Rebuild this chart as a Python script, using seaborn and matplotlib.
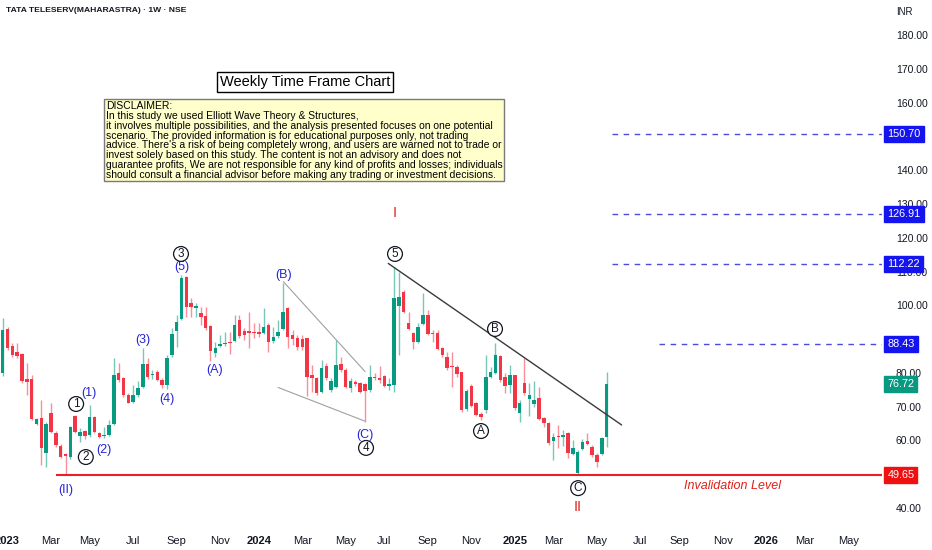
import numpy as np
import pandas as pd
import matplotlib
matplotlib.use("Agg")
import matplotlib.pyplot as plt
import matplotlib.transforms as mtransforms
import seaborn as sns

# weekly candles, first bar = week of 2022-12-26
start_week = "2022-12-26"
opens = [80.0, 93.0, 88.0, 86.2, 85.6, 78.2, 78.2, 64.9, 66.7, 56.3,
         68.1, 62.2, 58.4, 56.0, 55.1, 67.2, 61.3, 62.8, 61.6, 67.0,
         62.2, 61.2, 61.6, 64.9, 80.0, 78.5, 73.5, 71.4, 73.5, 75.8,
         82.6, 79.4, 80.3, 77.9, 76.4, 85.3, 92.4, 95.9, 108.4, 100.7,
         99.2, 97.7, 96.8, 93.9, 85.9, 88.0, 88.6, 89.1, 89.4, 95.7,
         92.4, 92.4, 92.1, 92.1, 91.8, 94.2, 89.4, 90.9, 93.0, 99.2,
         91.2, 90.3, 90.0, 90.3, 79.4, 78.5, 74.4, 82.0, 74.9, 75.8,
         82.6, 80.9, 75.5, 77.3, 77.0, 76.7, 74.9, 78.8, 78.5, 79.1,
         76.1, 76.4, 99.8, 103.9, 94.8, 91.8, 89.2, 94.5, 97.1, 91.8,
         91.8, 87.4, 84.7, 82.0, 81.7, 80.3, 69.3, 76.1, 71.1, 67.8,
         69.0, 78.8, 80.0, 85.0, 78.8, 76.4, 79.4, 68.1, 77.0, 72.3,
         70.8, 72.6, 66.7, 65.2, 59.9, 61.3, 61.0, 62.2, 56.0, 50.4,
         57.5, 59.9, 58.1, 55.7, 56.0, 61.0]
highs = [96.3, 93.6, 88.9, 88.9, 85.9, 82.9, 79.4, 66.7, 72.0, 65.5,
         71.1, 62.8, 59.0, 56.3, 64.3, 67.5, 63.7, 63.1, 70.5, 67.3,
         62.5, 64.0, 66.1, 84.4, 82.9, 78.8, 74.1, 76.4, 77.6, 87.4,
         84.4, 80.9, 80.9, 78.5, 85.3, 93.3, 97.1, 109.0, 108.7, 102.2,
         100.7, 99.5, 99.5, 94.2, 89.1, 91.2, 92.1, 92.1, 97.1, 97.1,
         93.3, 98.0, 94.8, 94.8, 99.2, 94.8, 93.6, 95.7, 106.6, 99.5,
         92.7, 91.2, 91.2, 90.3, 82.3, 78.8, 83.8, 82.9, 78.5, 89.7,
         84.7, 81.5, 78.5, 77.9, 77.3, 77.0, 82.3, 80.0, 82.0, 79.4,
         78.5, 111.3, 109.9, 104.5, 98.0, 92.1, 94.8, 103.7, 98.6, 92.7,
         92.7, 87.7, 86.2, 86.2, 82.3, 80.3, 75.2, 76.7, 71.4, 68.4,
         85.3, 81.7, 88.9, 85.3, 80.0, 82.3, 79.4, 72.0, 84.4, 77.0,
         77.6, 75.8, 67.0, 65.5, 62.2, 64.6, 63.1, 62.5, 60.1, 57.2,
         60.4, 62.2, 58.7, 56.3, 61.0, 80.3]
lows = [79.1, 86.8, 84.7, 84.4, 77.0, 73.5, 66.1, 64.6, 52.7, 52.2,
        62.2, 58.1, 54.8, 49.65, 54.5, 62.2, 59.6, 60.4, 61.0, 62.2,
        60.7, 60.7, 61.3, 64.6, 77.3, 72.9, 71.1, 71.1, 72.9, 75.5,
        78.2, 78.2, 77.6, 75.5, 75.2, 84.7, 87.7, 95.7, 96.5, 96.5,
        96.5, 94.2, 92.7, 83.5, 84.7, 87.7, 88.0, 85.6, 89.1, 90.3,
        89.7, 87.4, 90.3, 90.6, 91.5, 86.2, 88.9, 90.3, 92.7, 87.4,
        88.3, 86.8, 86.8, 73.2, 74.4, 73.5, 74.1, 77.9, 74.4, 75.5,
        80.3, 75.5, 74.4, 76.1, 74.1, 65.5, 74.4, 77.9, 77.0, 75.8,
        74.9, 74.4, 85.3, 97.7, 92.7, 87.1, 88.9, 94.2, 91.2, 89.2,
        86.8, 84.7, 80.9, 75.8, 78.8, 68.4, 68.7, 69.9, 67.2, 66.1,
        68.1, 78.5, 79.7, 77.3, 74.1, 74.1, 69.0, 65.5, 73.5, 67.2,
        69.9, 66.1, 64.0, 58.7, 54.2, 57.8, 58.4, 54.8, 55.7, 50.1,
        57.2, 58.7, 55.1, 52.1, 55.7, 58.1]
closes = [92.7, 87.4, 85.3, 85.0, 77.6, 77.3, 66.4, 66.4, 57.8, 64.9,
          62.5, 58.7, 55.1, 55.4, 64.0, 62.5, 62.5, 61.3, 67.0, 62.5,
          61.0, 61.4, 64.6, 79.4, 77.9, 73.5, 71.1, 73.5, 75.5, 82.6,
          78.8, 79.7, 77.9, 76.4, 84.4, 91.5, 95.1, 108.1, 99.5, 99.5,
          99.8, 96.5, 93.3, 86.5, 87.4, 88.6, 88.9, 88.9, 94.2, 90.9,
          91.2, 91.8, 91.7, 91.5, 93.6, 89.2, 90.6, 92.1, 98.0, 90.6,
          90.0, 87.7, 87.7, 78.8, 78.5, 74.1, 81.5, 78.5, 77.6, 82.3,
          80.9, 75.8, 77.6, 76.7, 74.4, 74.6, 78.8, 78.5, 77.9, 76.1,
          76.7, 102.2, 102.5, 98.0, 93.0, 89.2, 93.6, 97.1, 91.5, 91.5,
          87.1, 85.3, 81.5, 81.7, 79.7, 69.0, 74.6, 70.2, 67.5, 67.0,
          78.8, 80.3, 85.3, 77.9, 76.1, 79.4, 69.6, 71.1, 74.1, 73.5,
          72.0, 66.4, 65.2, 59.3, 61.0, 61.0, 61.6, 56.3, 57.8, 56.6,
          59.6, 59.0, 55.7, 53.6, 60.7, 76.72]

# target / invalidation levels
target_levels = [150.70, 126.91, 112.22, 88.43]
target_starts = [126.1, 126.1, 126.1, 135.8]
invalidation = 49.65
last_price = 76.72

# price axis ticks (the ones hidden behind tags are left out)
y_ticks = [40, 60, 70, 80, 100, 110, 120, 130, 140, 160, 170, 180]

# drawn lines (bar index, price)
trend_x = [79.8, 128.1]
trend_y = [112.4, 64.6]
wedge_top_x = [58.1, 75.0]
wedge_top_y = [107.0, 80.4]
wedge_low_x = [57.0, 75.0]
wedge_low_y = [75.7, 65.7]

# wave labels (text, bar index, price)
minor_labels = [("(1)", 17.9, 74.0), ("(2)", 21.0, 57.2), ("(3)", 29.0, 89.7),
                ("(4)", 34.0, 72.3), ("(5)", 37.1, 111.3), ("(A)", 43.9, 80.9),
                ("(B)", 58.2, 109.0), ("(C)", 75.0, 61.6), ("(II)", 13.1, 45.3)]
circle_labels = [("1", 15.2, 70.8), ("2", 17.2, 55.1), ("3", 36.9, 115.2),
                 ("4", 75.2, 57.8), ("5", 81.2, 115.2), ("A", 99.0, 62.8),
                 ("B", 101.9, 93.0), ("C", 119.1, 45.9)]
major_labels = [("I", 81.2, 127.3), ("II", 118.9, 40.3)]

disclaimer = ("DISCLAIMER:\n"
              "In this study we used Elliott Wave Theory & Structures,\n"
              "it involves multiple possibilities, and the analysis presented focuses on one potential\n"
              "scenario. The provided information is for educational purposes only, not trading\n"
              "advice. There's a risk of being completely wrong, and users are warned not to trade or\n"
              "invest solely based on this study. The content is not an advisory and does not\n"
              "guarantee profits, We are not responsible for any kind of profits and losses; individuals\n"
              "should consult a financial advisor before making any trading or investment decisions.")

sns.set_theme(style="white")
plt.rcParams["font.family"] = ["Liberation Sans", "DejaVu Sans"]

GREEN = "#089981"
RED = "#f23645"
BLUE_TXT = "#2424d4"
INK = "#131722"

df = pd.DataFrame({"open": opens, "high": highs, "low": lows, "close": closes})
df["date"] = pd.date_range(start_week, periods=len(df), freq="7D")
df["idx"] = np.arange(len(df))
df["color"] = np.where(df["close"] >= df["open"], GREEN, RED)
df["body_lo"] = df[["open", "close"]].min(axis=1)
df["body_h"] = (df["close"] - df["open"]).abs().clip(lower=0.3)

fig = plt.figure(figsize=(9.32, 5.5), dpi=100)
ax = fig.add_axes([0, 22 / 550, 882 / 932, 528 / 550])

ax.vlines(df["idx"], df["low"], df["high"], colors=df["color"], lw=1, alpha=0.55, zorder=2)
ax.bar(df["idx"], df["body_h"], bottom=df["body_lo"], width=0.72,
       color=df["color"], linewidth=0, zorder=3)

# lines
ax.plot(trend_x, trend_y, color="#3a3a3a", lw=1, zorder=4)
ax.plot(wedge_top_x, wedge_top_y, color="#a0a0a0", lw=0.8, zorder=4)
ax.plot(wedge_low_x, wedge_low_y, color="#a0a0a0", lw=0.8, zorder=4)

x_right = 182.0
ax.hlines(invalidation, 11.0, x_right, color="#ee1c25", lw=1.5, zorder=4)
for lv, xs in zip(target_levels, target_starts):
    ax.hlines(lv, xs, x_right, color="#4b4bdc", lw=1, linestyles=(0, (4, 4)), zorder=4)

# labels
for t, x, y in minor_labels:
    ax.text(x, y, t, color=BLUE_TXT, fontsize=9, ha="center", va="center", zorder=6)
for t, x, y in circle_labels:
    ax.text(x, y, t, color=INK, fontsize=8.5, ha="center", va="center", zorder=6,
            bbox=dict(boxstyle="circle,pad=0.12", fc="white", ec=INK, lw=0.9))
for t, x, y in major_labels:
    ax.text(x, y, t, color="#e0201a", fontsize=10, ha="center", va="center",
            family="DejaVu Sans", zorder=6)
ax.text(151.1, 46.5, "Invalidation Level", color="#e0201a", fontsize=9,
        style="italic", ha="center", va="center", zorder=6)

# right side price tags
trans = mtransforms.blended_transform_factory(ax.transAxes, ax.transData)
tags = [(v, "#1414ee") for v in target_levels] + [(last_price, GREEN), (invalidation, "#f01010")]
for v, c in tags:
    ax.text(1.006, v, f"{v:.2f}", transform=trans, color="white", fontsize=7.8,
            ha="left", va="center", clip_on=False, zorder=8,
            bbox=dict(boxstyle="square,pad=0.28", fc=c, ec=c))

# axes
ax.set_xlim(-0.56, 182.0)
ax.set_ylim(34.1, 190.36)
ax.yaxis.tick_right()
ax.set_yticks(y_ticks)
ax.set_yticklabels([f"{v:.2f}" for v in y_ticks], color=INK, fontsize=7.5)

month_starts = pd.date_range("2023-01-01", "2026-05-01", freq="2MS")
start = pd.Timestamp(start_week)
xt, xl = [], []
for m in month_starts:
    first_bar = m + pd.Timedelta(days=(7 - m.weekday()) % 7)
    xt.append((first_bar - start).days / 7)
    xl.append(str(m.year) if m.month == 1 else m.strftime("%b"))
ax.set_xticks(xt)
ax.set_xticklabels(xl, color=INK, fontsize=8)
for lab in ax.get_xticklabels():
    if lab.get_text().isdigit():
        lab.set_fontweight("bold")
ax.tick_params(axis="both", length=0)
ax.tick_params(axis="y", pad=10)
ax.tick_params(axis="x", pad=6)
for s in ax.spines.values():
    s.set_visible(False)
ax.grid(False)

fig.text(6 / 932, 1 - 11 / 550, "TATA TELESERV(MAHARASTRA) · 1W · NSE", fontsize=6.1,
         fontweight="bold", color=INK, va="center", ha="left")
fig.text(896 / 932, 1 - 12 / 550, "INR", fontsize=7, color=INK, va="center", ha="left")
fig.text(305 / 932, 1 - 82 / 550, "Weekly Time Frame Chart", fontsize=10.5, color="black",
         ha="center", va="center",
         bbox=dict(boxstyle="square,pad=0.2", fc="white", ec="black", lw=1))
fig.text(106 / 932, 1 - 101 / 550, disclaimer, fontsize=7.5, color="black",
         ha="left", va="top", linespacing=0.98,
         bbox=dict(boxstyle="square,pad=0.15", fc="#ffffcc", ec="#7a7a7a", lw=1))

fig.savefig("out.png", dpi=100)
